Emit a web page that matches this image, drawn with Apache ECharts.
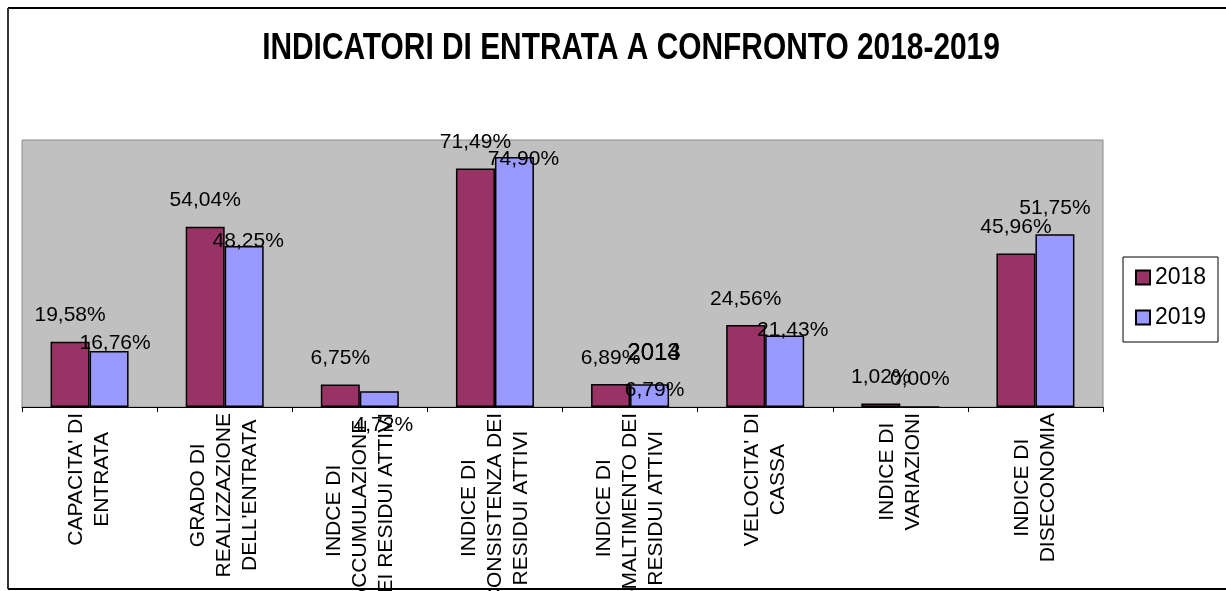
<!DOCTYPE html>
<html>
<head>
<meta charset="utf-8">
<script src="https://cdn.jsdelivr.net/npm/echarts@6/dist/echarts.min.js"></script>
<style>
  html, body { margin: 0; padding: 0; background: #fff; }
  #chart { width: 1226px; height: 591px; }
</style>
</head>
<body>
<div id="chart"></div>
<script>
const categories = [
  "CAPACITA' DI\nENTRATA",
  "GRADO DI\nREALIZZAZIONE\nDELL'ENTRATA",
  "INDCE DI\nACCUMULAZIONE\nDEI RESIDUI ATTIVI",
  "INDICE DI\nCONSISTENZA DEI\nRESIDUI ATTIVI",
  "INDICE DI\nSMALTIMENTO DEI\nRESIDUI ATTIVI",
  "VELOCITA' DI\nCASSA",
  "INDICE DI\nVARIAZIONI",
  "INDICE DI\nDISECONOMIA"
]
const values2018 = [19.58, 54.04, 6.75, 71.49, 6.89, 24.56, 1.02, 45.96]
const values2019 = [16.76, 48.25, 4.72, 74.90, 6.79, 21.43, 0.00, 51.75]
const seriesNames = ['2018', '2019']

// spostamento delle etichette 2019 [dx, salita sopra la barra]
const labelShift2019 = [[6, 8], [4, 5], [4, -34], [9, -2], [5, -6], [8, 5], [0, 27], [0, 26]]

const fmt = v => v.toFixed(2).replace('.', ',') + '%'
const font = '"Liberation Sans", Arial, sans-serif'

const chart = echarts.init(document.getElementById('chart'))

const option = {
  animation: false,
  backgroundColor: '#fff',
  legend: {
    orient: 'vertical',
    left: 1123,
    top: 257,
    padding: [9, 8, 13, 12],
    itemWidth: 14,
    itemHeight: 14,
    itemGap: 17,
    itemTextGap: 9,
    icon: 'rect',
    textStyle: { fontFamily: font, fontSize: 23, color: '#000' },
    data: seriesNames
  },
  grid: {
    left: 22,
    right: 123,
    top: 140,
    bottom: 184,
    outerBoundsMode: 'none',
    containLabel: false,
    show: true,
    backgroundColor: '#C0C0C0',
    borderColor: '#8a8a8a',
    borderWidth: 1
  },
  xAxis: {
    type: 'category',
    data: categories,
    axisLine: { lineStyle: { color: '#000', width: 1 } },
    axisTick: { show: true, length: 5, interval: 0, lineStyle: { color: '#000' } },
    axisLabel: {
      interval: 0,
      rotate: 90,
      margin: 6,
      color: '#000',
      fontFamily: font,
      fontSize: 21,
      formatter: v => v.split('\n').map(l => '{c|' + l + '}').join('\n'),
      rich: {
        c: { align: 'center', fontFamily: font, fontSize: 21, lineHeight: 26, color: '#000' }
      }
    }
  },
  yAxis: {
    type: 'value',
    min: 0,
    max: 80,
    show: false,
    splitLine: { show: false }
  },
  series: [
    {
      name: seriesNames[0],
      type: 'bar',
      barWidth: 39,
      barGap: '0%',
      data: values2018,
      itemStyle: { color: '#993366', borderColor: '#000', borderWidth: 1.5 },
      label: {
        show: true,
        position: 'top',
        distance: 0,
        offset: [0, -15.5],
        fontFamily: font,
        fontSize: 21,
        lineHeight: 21,
        color: '#000',
        formatter: p => fmt(p.value)
      }
    },
    {
      name: seriesNames[1],
      type: 'bar',
      barWidth: 39,
      barGap: '0%',
      data: values2019.map((v, i) => ({
        value: v,
        label: { offset: [labelShift2019[i][0], -(labelShift2019[i][1] - 10.5)] }
      })),
      itemStyle: { color: '#9999FF', borderColor: '#000', borderWidth: 1.5 },
      label: {
        show: true,
        position: 'top',
        distance: 0,
        fontFamily: font,
        fontSize: 21,
        lineHeight: 21,
        color: '#000',
        formatter: p => fmt(p.value)
      }
    }
  ],
  graphic: [
    // titolo compresso orizzontalmente (tipo Arial Narrow)
    {
      type: 'text', x: 631, y: 49, scaleX: 0.83, z: 100,
      style: {
        text: 'INDICATORI DI ENTRATA A CONFRONTO 2018-2019',
        font: 'bold 36px ' + font, fill: '#000', align: 'center', verticalAlign: 'middle'
      }
    },
    // cornice della legenda
    { type: 'rect', shape: { x: 1123, y: 257, width: 95, height: 85 }, z: -1, style: { fill: '#fff', stroke: '#000', lineWidth: 1 } },
    // bordo esterno
    { type: 'line', shape: { x1: 8, y1: 8, x2: 1226, y2: 8 }, style: { stroke: '#000', lineWidth: 2 } },
    { type: 'line', shape: { x1: 8, y1: 8, x2: 8, y2: 589 }, style: { stroke: '#333', lineWidth: 2 } },
    { type: 'line', shape: { x1: 8, y1: 589, x2: 1226, y2: 589 }, style: { stroke: '#000', lineWidth: 2 } },
    // testo residuo sovrapposto nel grafico originale
    { type: 'text', x: 654, y: 353, z: 100, style: { text: '2013', font: '24px ' + font, fill: '#000', align: 'center', verticalAlign: 'middle' } },
    { type: 'text', x: 654, y: 353, z: 100, style: { text: '2014', font: '24px ' + font, fill: '#000', align: 'center', verticalAlign: 'middle' } }
  ]
}

chart.setOption(option)
</script>
</body>
</html>
